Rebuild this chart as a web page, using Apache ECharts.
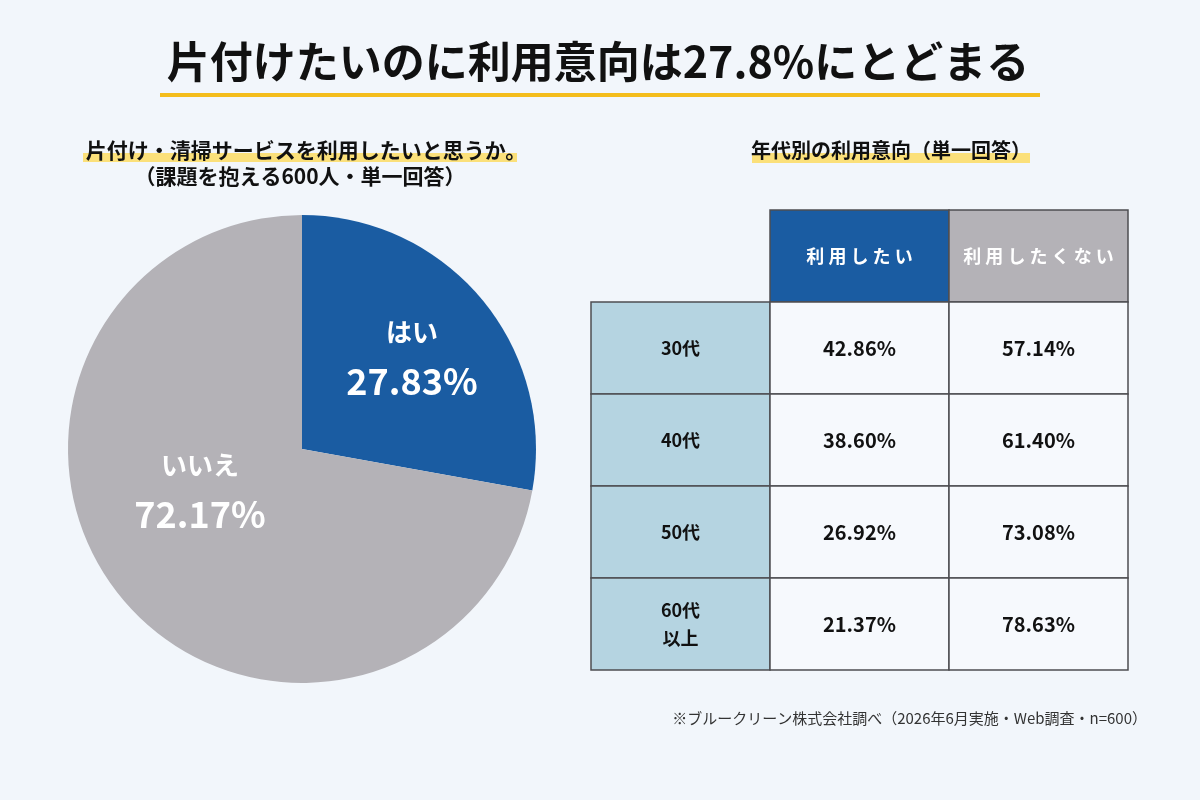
<!DOCTYPE html>
<html>
<head>
<meta charset="utf-8">
<script src="https://cdn.jsdelivr.net/npm/echarts@6/dist/echarts.min.js"></script>
<style>
  html, body { margin: 0; padding: 0; background: #f2f6fb; }
  #chart { width: 1200px; height: 800px; }
</style>
</head>
<body>
<div id="chart"></div>
<script>
const FONT = '"Noto Sans CJK JP", "Noto Sans", sans-serif'

// pie: 片付け・清掃サービスを利用したいか
const pieNames = ['はい', 'いいえ']
const pieValues = [27.83, 72.17]

// table: 年代別の利用意向
const columns = ['', '利用したい', '利用したくない']
const ages = ['30代', '40代', '50代', '60代\n以上']
const wantValues = [42.86, 38.60, 26.92, 21.37]
const notValues = [57.14, 61.40, 73.08, 78.63]

const BLUE = '#1a5ca2'
const GRAY = '#b4b2b7'
const ROW_HEAD = '#b5d4e1'
const CELL = '#f6f9fd'
const LINE = '#4d4d52'

// cells: [col, row, text, kind]
const cells = []
columns.forEach((c, i) => {
  if (i > 0) cells.push([i, 0, c.split('').join(' '), i === 1 ? 'want' : 'not'])
})
ages.forEach((a, r) => {
  cells.push([0, r + 1, a, 'age'])
  cells.push([1, r + 1, wantValues[r].toFixed(2) + '%', 'value'])
  cells.push([2, r + 1, notValues[r].toFixed(2) + '%', 'value'])
})

const fills = { want: BLUE, not: GRAY, age: ROW_HEAD, value: CELL }

const renderCell = (params, api) => {
  const center = api.coord([api.value(0), api.value(1)])
  const size = api.size([1, 1])
  const kind = cells[params.dataIndex][3]
  const text = cells[params.dataIndex][2]
  const isHead = kind === 'want' || kind === 'not'
  let font = 'bold 20px ' + FONT
  if (isHead) font = 'bold 18px ' + FONT
  if (kind === 'age') font = 'bold 18px ' + FONT
  return {
    type: 'group',
    children: [
      {
        type: 'rect',
        shape: { x: center[0] - size[0] / 2, y: center[1] - size[1] / 2, width: size[0], height: size[1] },
        style: { fill: fills[kind], stroke: LINE, lineWidth: 1.5 }
      },
      {
        type: 'text',
        style: {
          x: center[0], y: center[1], text: text,
          fill: isHead ? '#ffffff' : '#111111',
          font: font, align: 'center', verticalAlign: 'middle',
          lineHeight: 28
        },
        z2: 10
      }
    ]
  }
}

const chart = echarts.init(document.getElementById('chart'))

const option = {
  backgroundColor: '#f2f6fb',
  animation: false,
  textStyle: { fontFamily: FONT },
  graphic: [
    { type: 'rect', shape: { x: 160, y: 93, width: 880, height: 4 }, style: { fill: '#f4bd1c' } },
    { type: 'text', x: 598, y: 62, style: { text: '片付けたいのに利用意向は27.8%にとどまる', font: 'bold 43px ' + FONT, fill: '#111', align: 'center', verticalAlign: 'middle' } },
    { type: 'rect', shape: { x: 83, y: 153, width: 434, height: 9 }, style: { fill: '#fbe07a' } },
    { type: 'text', x: 306, y: 150, style: { text: '片付け・清掃サービスを利用したいと思うか。', font: 'bold 21px ' + FONT, fill: '#111', align: 'center', verticalAlign: 'middle' } },
    { type: 'text', x: 300, y: 176, style: { text: '（課題を抱える600人・単一回答）', font: 'bold 21px ' + FONT, fill: '#111', align: 'center', verticalAlign: 'middle' } },
    { type: 'rect', shape: { x: 752, y: 153, width: 278, height: 10 }, style: { fill: '#fbe07a' } },
    { type: 'text', x: 891, y: 150, style: { text: '年代別の利用意向（単一回答）', font: 'bold 20px ' + FONT, fill: '#111', align: 'center', verticalAlign: 'middle' } },
    { type: 'text', x: 1147, y: 718, style: { text: '※ブルークリーン株式会社調べ（2026年6月実施・Web調査・n=600）', font: '15px ' + FONT, fill: '#333', align: 'right', verticalAlign: 'middle' } }
  ],
  grid: { left: 591, top: 210, width: 537, height: 460 },
  xAxis: { type: 'category', data: columns, show: false },
  yAxis: { type: 'category', data: ['header'].concat(ages), inverse: true, show: false },
  series: [
    {
      type: 'pie',
      center: [302, 449],
      radius: 234,
      startAngle: 90,
      silent: true,
      itemStyle: { borderWidth: 0 },
      label: {
        show: true,
        position: 'inside',
        color: '#fff',
        formatter: '{n|{b}}\n{p|{c}%}',
        rich: {
          n: { fontSize: 26, fontWeight: 'bold', color: '#fff', lineHeight: 48, fontFamily: FONT },
          p: { fontSize: 36, fontWeight: 'bold', color: '#fff', lineHeight: 50, fontFamily: FONT }
        }
      },
      labelLine: { show: false },
      labelLayout: (params) => {
        const pos = [[412, 357], [200, 490]][params.dataIndex]
        return { x: pos[0], y: pos[1] }
      },
      data: pieNames.map((n, i) => ({
        name: n,
        value: pieValues[i],
        itemStyle: { color: i === 0 ? BLUE : GRAY }
      }))
    },
    {
      type: 'custom',
      silent: true,
      renderItem: renderCell,
      data: cells.map(c => [c[0], c[1]])
    }
  ]
}

chart.setOption(option)
window.addEventListener('resize', () => chart.resize())
</script>
</body>
</html>
